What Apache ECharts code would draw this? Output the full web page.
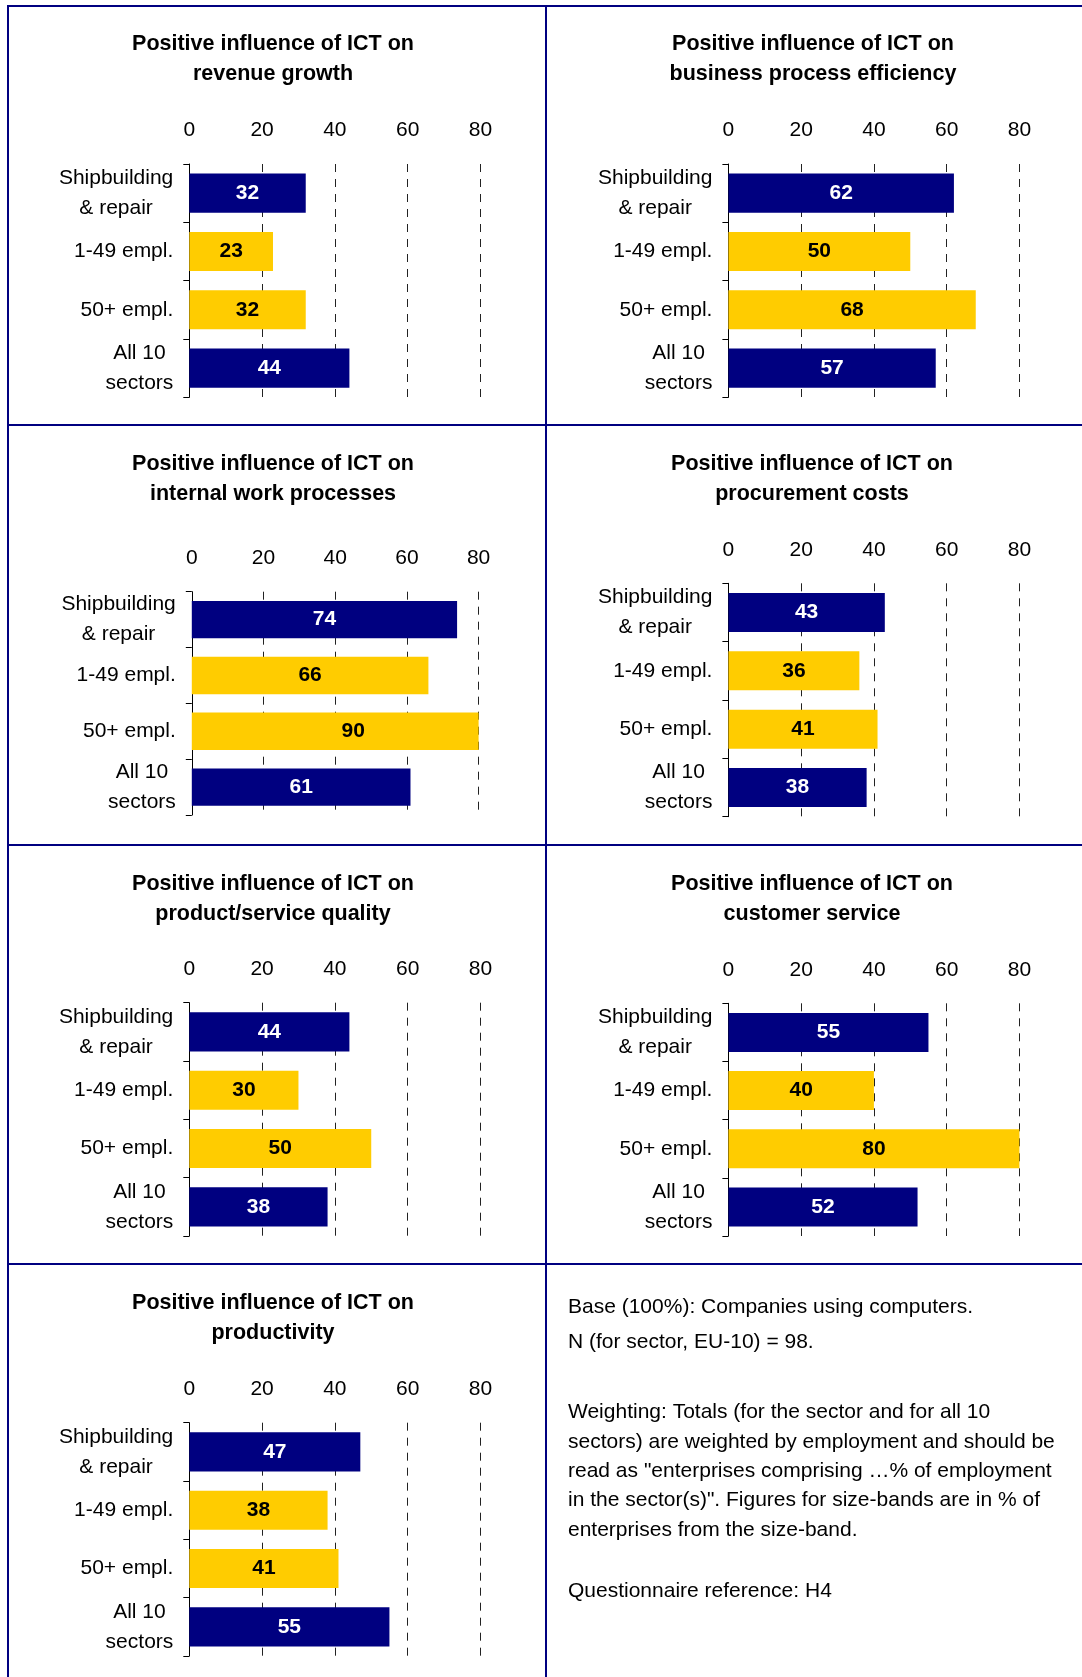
<!DOCTYPE html>
<html>
<head>
<meta charset="utf-8">
<title>Positive influence of ICT</title>
<script src="https://cdn.jsdelivr.net/npm/echarts@6/dist/echarts.min.js"></script>
<style>
  html, body { margin: 0; padding: 0; background: #ffffff; }
  #chart { width: 1082px; height: 1677px; }
</style>
</head>
<body>
<div id="chart"></div>
<script>
// ---- data -------------------------------------------------------------
const categories = ['Shipbuilding\n& repair', '1-49 empl.', '50+ empl.', 'All 10\nsectors'];
const tickValues = [0, 20, 40, 60, 80];

const titleRevenue = 'Positive influence of ICT on\nrevenue growth';
const titleEfficiency = 'Positive influence of ICT on\nbusiness process efficiency';
const titleInternal = 'Positive influence of ICT on\ninternal work processes';
const titleProcurement = 'Positive influence of ICT on\nprocurement costs';
const titleQuality = 'Positive influence of ICT on\nproduct/service quality';
const titleCustomer = 'Positive influence of ICT on\ncustomer service';
const titleProductivity = 'Positive influence of ICT on\nproductivity';

const revenueGrowth = [32, 23, 32, 44];
const processEfficiency = [62, 50, 68, 57];
const internalWork = [74, 66, 90, 61];
const procurementCosts = [43, 36, 41, 38];
const serviceQuality = [44, 30, 50, 38];
const customerService = [55, 40, 80, 52];
const productivity = [47, 38, 41, 55];

const noteLines = [
  'Base (100%): Companies using computers.',
  'N (for sector, EU-10) = 98.'
];
const weightingLines = [
  'Weighting: Totals (for the sector and for all 10',
  'sectors) are weighted by employment and should be',
  'read as "enterprises comprising \u2026% of employment',
  'in the sector(s)". Figures for size-bands are in % of',
  'enterprises from the size-band.'
];
const questionnaireLine = 'Questionnaire reference: H4';

// ---- styling ----------------------------------------------------------
const FONT = '"Liberation Sans", Arial, Helvetica, sans-serif';
const NAVY = '#000080';
const YELLOW = '#FFCC00';
const barColors = [NAVY, YELLOW, YELLOW, NAVY];
const valueLabelColors = ['#ffffff', '#000000', '#000000', '#ffffff'];

// panel layout: plot area box and title centre
const panels = [
  { title: titleRevenue,      values: revenueGrowth,     left: 189.3, top: 164.0,  width: 291.1, height: 233.3, tx: 273, ty: 29 },
  { title: titleEfficiency,   values: processEfficiency, left: 728.4, top: 164.0,  width: 291.0, height: 233.3, tx: 813, ty: 29 },
  { title: titleInternal,     values: internalWork,      left: 191.8, top: 591.7,  width: 286.8, height: 223.3, tx: 273, ty: 449 },
  { title: titleProcurement,  values: procurementCosts,  left: 728.4, top: 583.3,  width: 291.0, height: 233.4, tx: 812, ty: 449 },
  { title: titleQuality,      values: serviceQuality,    left: 189.3, top: 1002.7, width: 291.1, height: 233.3, tx: 273, ty: 869 },
  { title: titleCustomer,     values: customerService,   left: 728.4, top: 1003.3, width: 291.0, height: 232.7, tx: 812, ty: 869 },
  { title: titleProductivity, values: productivity,      left: 189.3, top: 1422.7, width: 291.1, height: 233.3, tx: 273, ty: 1288 }
];

const titles = [], grids = [], xAxes = [], yAxes = [], series = [];

panels.forEach((p, i) => {
  titles.push({
    text: p.title,
    left: p.tx,
    top: p.ty,
    padding: 0,
    textAlign: 'center',
    textVerticalAlign: 'top',
    textStyle: {
      fontFamily: FONT, fontSize: 21.5, fontWeight: 'bold', color: '#000', lineHeight: 30
    }
  });
  grids.push({ left: p.left, top: p.top, width: p.width, height: p.height, containLabel: false });
  xAxes.push({
    gridIndex: i,
    type: 'value',
    position: 'top',
    min: tickValues[0],
    max: tickValues[tickValues.length - 1],
    interval: tickValues[1] - tickValues[0],
    axisLine: { show: false },
    axisTick: { show: false },
    axisLabel: { margin: 23, fontFamily: FONT, fontSize: 21, color: '#000' },
    splitLine: {
      show: true,
      showMinLine: false,
      lineStyle: { type: [8, 7], color: '#222', width: 1 }
    }
  });
  yAxes.push({
    gridIndex: i,
    type: 'category',
    inverse: true,
    data: categories,
    axisLine: { show: true, lineStyle: { color: '#000', width: 1 } },
    axisTick: { show: true, length: 6, lineStyle: { color: '#000', width: 1 } },
    axisLabel: {
      margin: 16,
      formatter: v => v.split('\n').map(line => '{c|' + line + '}').join('\n'),
      rich: {
        c: { align: 'center', fontFamily: FONT, fontSize: 21, lineHeight: 30, color: '#000' }
      }
    }
  });
  // bars, clipped to the plot area
  series.push({
    type: 'bar',
    xAxisIndex: i,
    yAxisIndex: i,
    barCategoryGap: '33%',
    barGap: '-100%',
    clip: true,
    silent: true,
    z: 2,
    data: p.values.map((v, j) => ({ value: v, itemStyle: { color: barColors[j] } }))
  });
  // value labels, centred on the full bar length
  series.push({
    type: 'bar',
    xAxisIndex: i,
    yAxisIndex: i,
    barCategoryGap: '33%',
    barGap: '-100%',
    clip: false,
    silent: true,
    z: 3,
    itemStyle: { color: 'rgba(0,0,0,0)' },
    label: {
      show: true,
      position: 'inside',
      formatter: '{c}',
      fontFamily: FONT,
      fontSize: 21,
      fontWeight: 'bold'
    },
    data: p.values.map((v, j) => ({ value: v, label: { color: valueLabelColors[j] } }))
  });
});

// frame lines between the panels
const frameStyle = { stroke: NAVY, lineWidth: 2 };
const frame = [
  { x1: 8, y1: 5, x2: 8, y2: 1677 },
  { x1: 546, y1: 5, x2: 546, y2: 1677 },
  { x1: 7, y1: 6, x2: 1082, y2: 6 },
  { x1: 7, y1: 425, x2: 1082, y2: 425 },
  { x1: 7, y1: 845, x2: 1082, y2: 845 },
  { x1: 7, y1: 1264, x2: 1082, y2: 1264 }
].map(s => ({ type: 'line', silent: true, shape: s, style: frameStyle, z: 10 }));

const noteStyle = { fontFamily: FONT, fontSize: 21, fill: '#000', textVerticalAlign: 'middle' };
const notes = [
  { type: 'text', x: 568, y: 1307.5, style: Object.assign({ text: noteLines[0] }, noteStyle) },
  { type: 'text', x: 568, y: 1342.5, style: Object.assign({ text: noteLines[1] }, noteStyle) },
  { type: 'text', x: 568, y: 1398, style: Object.assign({ text: weightingLines.join('\n'), lineHeight: 29.3 }, noteStyle, { textVerticalAlign: 'top' }) },
  { type: 'text', x: 568, y: 1591, style: Object.assign({ text: questionnaireLine }, noteStyle) }
];

const chart = echarts.init(document.getElementById('chart'), null, { renderer: 'canvas' });
chart.setOption({
  animation: false,
  backgroundColor: '#ffffff',
  title: titles,
  grid: grids,
  xAxis: xAxes,
  yAxis: yAxes,
  series: series,
  graphic: frame.concat(notes)
});
</script>
</body>
</html>
